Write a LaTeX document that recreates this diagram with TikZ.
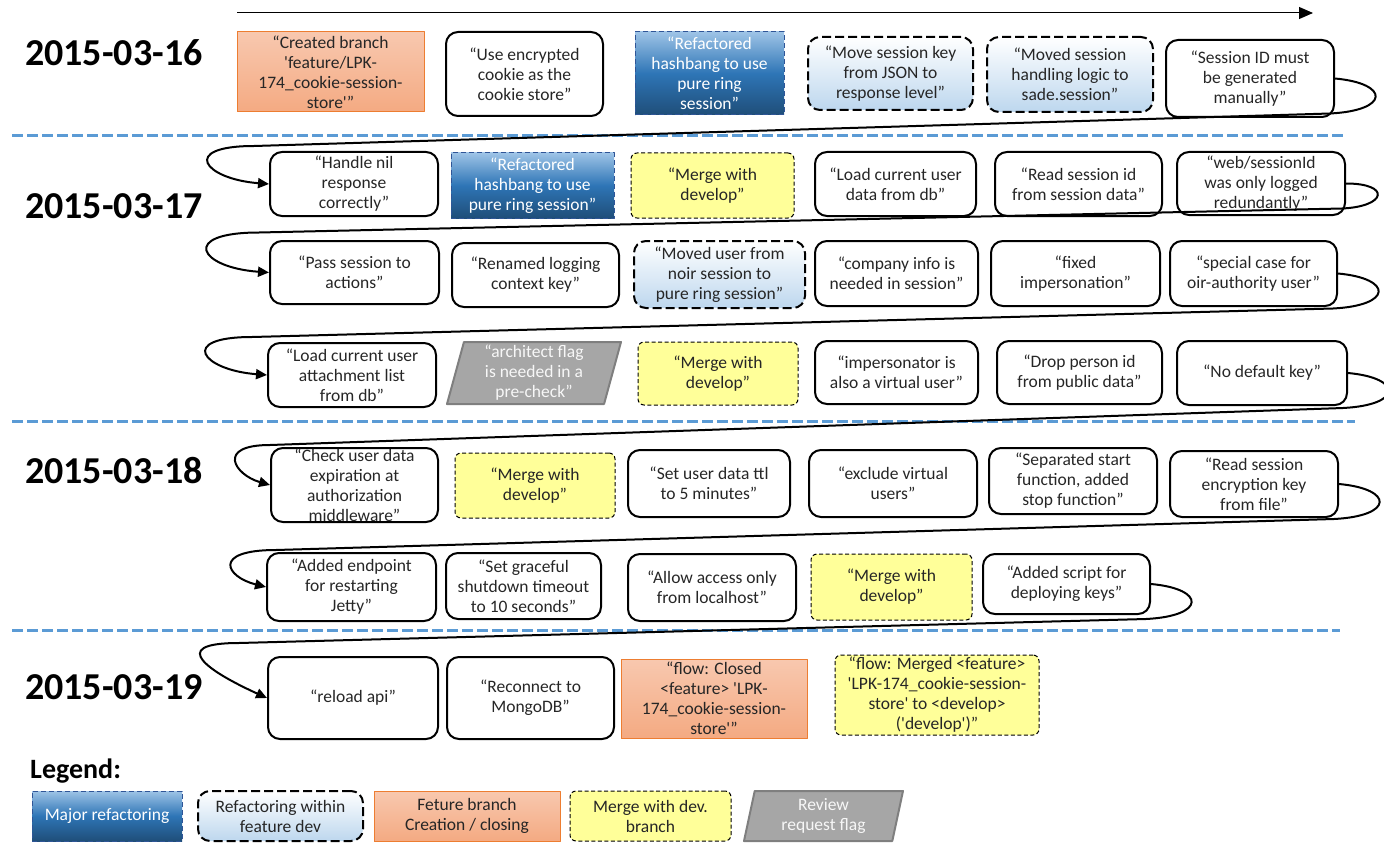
\documentclass[tikz,border=0pt]{standalone}
\usepackage{fontspec}
\setmainfont{Carlito}[Ligatures=TeXOff]
\usetikzlibrary{arrows.meta}
\usetikzlibrary{calc}
\usetikzlibrary{shapes.geometric}

\definecolor{sepblue}{RGB}{91,155,213}
\definecolor{majtop}{RGB}{157,195,230}
\definecolor{majmid}{RGB}{46,117,182}
\definecolor{majbot}{RGB}{31,78,121}
\definecolor{majline}{RGB}{47,85,151}
\definecolor{minbot}{RGB}{189,215,238}
\definecolor{feattop}{RGB}{248,200,175}
\definecolor{featbot}{RGB}{244,170,130}
\definecolor{featline}{RGB}{237,125,49}
\definecolor{mergefill}{RGB}{255,255,153}
\definecolor{flagfill}{RGB}{166,166,166}
\definecolor{flagline}{RGB}{127,127,127}

\newcommand{\boxfont}{\fontsize{17.5}{20}\selectfont}

\tikzset{
  commit/.style={align=center, inner sep=0pt, font=\boxfont, text=black!85},
  boxsize/.style 2 args={minimum width=#1pt, minimum height=#2pt},
  plainbox/.style={commit, draw, line width=2pt, rounded corners=12pt},
  majorbox/.style={commit, draw=majline, line width=1pt, dash pattern=on 5pt off 3pt,
    top color=majtop, bottom color=majbot, middle color=majmid, text=white},
  minorbox/.style={commit, draw, line width=2pt, dash pattern=on 9pt off 4pt,
    rounded corners=12pt, top color=white, bottom color=minbot},
  featbox/.style={commit, draw=featline, line width=1pt, top color=feattop, bottom color=featbot},
  mergebox/.style={commit, draw, line width=1pt, dash pattern=on 4pt off 2.5pt,
    rounded corners=6pt, fill=mergefill},
  flagbox/.style={commit, trapezium, trapezium left angle=73, trapezium right angle=107,
    trapezium stretches body, draw=flagline, line width=2pt, fill=flagfill, text=black!3},
  wrapline/.style={line width=2pt, -{Triangle[length=11pt, width=10pt]}},
  daysep/.style={sepblue, line width=3pt, dash pattern=on 11pt off 4pt},
  daylabel/.style={anchor=base west, inner sep=0pt, font=\fontsize{38}{40}\selectfont\bfseries},
}

\begin{document}
\begin{tikzpicture}[x=1pt, y=-1pt, line cap=butt, line join=round]

\useasboundingbox (0,0) rectangle (1384,848);

% time axis
\coordinate (tstart) at (237,13);
\coordinate (tend) at (1313,13);
\draw[line width=1pt, -{Triangle[length=14pt, width=12pt]}] (tstart) -- (tend);

% days
\node[daylabel] (day16) at (25,66) {2015-03-16};
\node[daylabel] (day17) at (25,218) {2015-03-17};
\node[daylabel] (day18) at (25,483) {2015-03-18};
\node[daylabel] (day19) at (25,699) {2015-03-19};

\draw[daysep] (12,136) -- (1345,136);
\draw[daysep] (12,421) -- (1355,421);
\draw[daysep] (12,630) -- (1340,630);

% 2015-03-16
\node[featbox, boxsize={187}{80}] (a1) at (330.5,72) {“Created branch\\'feature/LPK-\\174\_cookie-session-\\store'”};
\node[plainbox, boxsize={157}{84}] (a2) at (524.5,74) {“Use encrypted\\cookie as the\\cookie store”};
\node[majorbox, boxsize={149}{83}] (a3) at (709.5,73.5) {“Refactored\\hashbang to use\\pure ring\\session”};
\node[minorbox, boxsize={165}{73}] (a4) at (890.5,73.5) {“Move session key\\from JSON to\\response level”};
\node[minorbox, boxsize={166}{75}] (a5) at (1070,74.5) {“Moved session\\handling logic to\\sade.session”};
\node[plainbox, boxsize={168}{77}] (a6) at (1250,78.5) {“Session ID must\\be generated\\manually”};

% 2015-03-17
\node[plainbox, boxsize={168}{64}] (b1) at (354,184) {“Handle nil\\response\\correctly”};
\node[majorbox, boxsize={163}{65}] (b2) at (532.5,185.5) {“Refactored\\hashbang to use\\pure ring session”};
\node[mergebox, boxsize={163}{65}] (b3) at (712.5,185.5) {“Merge with\\develop”};
\node[plainbox, boxsize={161}{64}] (b4) at (895.5,184) {“Load current user\\data from db”};
\node[plainbox, boxsize={167}{64}] (b5) at (1078.5,184) {“Read session id\\from session data”};
\node[plainbox, boxsize={168}{63}] (b6) at (1261,183.5) {“web/sessionId\\was only logged\\redundantly”};

\node[plainbox, boxsize={169}{63}] (c1) at (354.5,272.5) {“Pass session to\\actions”};
\node[plainbox, boxsize={167}{64}] (c2) at (535.5,275) {“Renamed logging\\context key”};
\node[minorbox, boxsize={171}{67}] (c3) at (719.5,274.5) {“Moved user from\\noir session to\\pure ring session”};
\node[plainbox, boxsize={163}{65}] (c4) at (896.5,273.5) {“company info is\\needed in session”};
\node[plainbox, boxsize={169}{65}] (c5) at (1075.5,273.5) {“fixed\\impersonation”};
\node[plainbox, boxsize={167}{65}] (c6) at (1253.5,273.5) {“special case for\\oir-authority user”};

\node[plainbox, boxsize={168}{64}] (d1) at (352,375) {“Load current user\\attachment list\\from db”};
\node[flagbox, boxsize={174}{62}] (d2) at (534,373) {“architect flag\\is needed in a\\pre-check”};
\node[mergebox, boxsize={160}{63}] (d3) at (718,373.5) {“Merge with\\develop”};
\node[plainbox, boxsize={163}{63}] (d4) at (896.5,372.5) {“impersonator is\\also a virtual user”};
\node[plainbox, boxsize={165}{63}] (d5) at (1079.5,372.5) {“Drop person id\\from public data”};
\node[plainbox, boxsize={170}{64}] (d6) at (1262,373) {“No default key”};

% 2015-03-18
\node[plainbox, boxsize={167}{74}] (e1) at (354.5,485) {“Check user data\\expiration at\\authorization\\middleware”};
\node[mergebox, boxsize={160}{65}] (e2) at (535,485.5) {“Merge with\\develop”};
\node[plainbox, boxsize={162}{67}] (e3) at (709,483.5) {“Set user data ttl\\to 5 minutes”};
\node[plainbox, boxsize={168}{67}] (e4) at (893,483.5) {“exclude virtual\\users”};
\node[plainbox, boxsize={168}{66}] (e5) at (1073,481) {“Separated start\\function, added\\stop function”};
\node[plainbox, boxsize={168}{66}] (e6) at (1254,484) {“Read session\\encryption key\\from file”};

\node[plainbox, boxsize={169}{68}] (f1) at (351.5,587) {“Added endpoint\\for restarting\\Jetty”};
\node[plainbox, boxsize={155}{66}] (f2) at (523.5,586) {“Set graceful\\shutdown timeout\\to 10 seconds”};
\node[plainbox, boxsize={168}{67}] (f3) at (712,587.5) {“Allow access only\\from localhost”};
\node[mergebox, boxsize={161}{66}] (f4) at (891.5,587) {“Merge with\\develop”};
\node[plainbox, boxsize={167}{60}] (f5) at (1066.5,584) {“Added script for\\deploying keys”};

% 2015-03-19
\node[plainbox, boxsize={170}{82}] (g1) at (353,698) {“reload api”};
\node[plainbox, boxsize={167}{82}] (g2) at (530.5,698) {“Reconnect to\\MongoDB”};
\node[featbox, boxsize={186}{79}] (g3) at (714,698.5) {“flow: Closed\\<feature> 'LPK-\\174\_cookie-session-\\store'”};
\node[mergebox, boxsize={204}{80}] (g4) at (937,695) {“flow: Merged <feature>\\'LPK-174\_cookie-session-\\store' to <develop>\\('develop')”};

% line wraps
\draw[wrapline] (a6.east) .. controls +(55,5) and +(60,-3) .. ($(a6.east)+(-5,35)$)
  -- ($(b1.west)+(-15,-38)$) .. controls +(-75,0) and +(-65,-5) .. (b1.west);
\draw[wrapline] (b6.east) .. controls +(45,0) and +(45,-2) .. ($(b6.east)+(-4,25)$)
  -- ($(c1.west)+(-10,-40)$) .. controls +(-80,0) and +(-70,-5) .. (c1.west);
\draw[wrapline] (c6.east) .. controls +(55,5) and +(60,-3) .. ($(c6.east)+(-5,35)$)
  -- ($(d1.west)+(-15,-38)$) .. controls +(-75,0) and +(-65,-5) .. (d1.west);
\draw[wrapline] (d6.east) .. controls +(55,5) and +(60,-3) .. ($(d6.east)+(-5,35)$)
  -- ($(e1.west)+(0,-40)$) .. controls +(-55,0) and +(-35,-10) .. (e1.west);
\draw[wrapline] (e6.east) .. controls +(55,5) and +(60,-3) .. ($(e6.east)+(-5,35)$)
  -- ($(f1.west)+(10,-37)$) .. controls +(-65,0) and +(-40,-10) .. (f1.west);
\draw[wrapline] (f5.east) .. controls +(55,5) and +(60,-3) .. ($(f5.east)+(-5,35)$)
  -- ($(g1.west)+(-28,-55)$) .. controls +(-75,0) and +(-55,-25) .. (g1.west);

% legend
\node[anchor=base west, inner sep=0pt, font=\fontsize{28}{30}\selectfont\bfseries] (legend) at (30,778) {Legend:};
\node[majorbox, boxsize={150}{50}] (l1) at (107,816) {Major refactoring};
\node[minorbox, boxsize={165}{50}] (l2) at (280.5,816) {Refactoring within\\feature dev};
\node[featbox, boxsize={186}{50}] (l3) at (467,816) {Feture branch\\Creation / closing};
\node[mergebox, boxsize={161}{50}] (l4) at (650.5,816) {Merge with dev.\\branch};
\node[flagbox, boxsize={159}{50}] (l5) at (823.5,816) {Review\\request flag};

\end{tikzpicture}
\end{document}
